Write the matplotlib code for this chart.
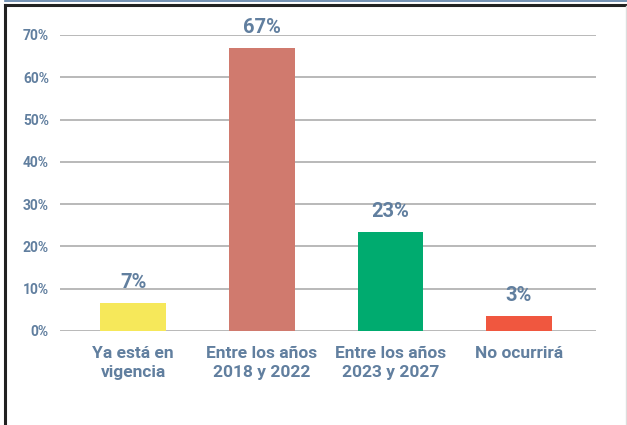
import matplotlib.pyplot as plt
from matplotlib.lines import Line2D

categories = ["Ya está en\nvigencia", "Entre los años\n2018 y 2022",
              "Entre los años\n2023 y 2027", "No ocurrirá"]
values = [6.6, 67.0, 23.4, 3.5]
value_labels = ["7%", "67%", "23%", "3%"]
bar_colors = ["#f6e85a", "#d07a6e", "#00ab6f", "#f0573f"]
y_ticks = [0, 10, 20, 30, 40, 50, 60, 70]

TEXT = "#617f9f"
W, H = 627, 425

plt.rcParams["font.family"] = ["Roboto", "DejaVu Sans"]

fig = plt.figure(figsize=(W / 100, H / 100), dpi=100)
ax = fig.add_axes([60 / W, (H - 331) / H, (596 - 60) / W, (331 - 35) / H])

x = range(len(categories))
ax.bar(x, values, width=0.51, color=bar_colors, zorder=3)

for xi, v, lab in zip(x, values, value_labels):
    ax.annotate(lab, (xi, v), xytext=(0, 11), textcoords="offset pixels",
                ha="center", va="bottom", fontsize=14.5, fontweight="bold",
                color=TEXT, clip_on=False, zorder=4)

ax.set_xlim(-0.57, 3.6)
ax.set_ylim(0, 70)
ax.set_yticks(y_ticks)
ax.set_yticklabels([f"{t}%" for t in y_ticks])
ax.set_xticks(list(x))
ax.set_xticklabels(categories, linespacing=1.35)

ax.tick_params(axis="y", length=0, pad=8, labelsize=10, labelcolor=TEXT)
ax.tick_params(axis="x", length=0, pad=11, labelsize=12.5, labelcolor=TEXT)
for lab in ax.get_xticklabels() + ax.get_yticklabels():
    lab.set_fontweight("bold")

ax.grid(True, axis="y", color="#b3b3b3", linewidth=1.3, zorder=0)
for s in ax.spines.values():
    s.set_visible(False)

# frame around the figure
fig.add_artist(Line2D([5 / W, 1], [1 - 0.8 / H] * 2, color="#5a7ea6", linewidth=1.2))
fig.add_artist(Line2D([4.5 / W, 1], [1 - 4.5 / H] * 2, color="#222222", linewidth=2.2))
fig.add_artist(Line2D([4.5 / W] * 2, [0, 1 - 4.5 / H], color="#222222", linewidth=2.2))
fig.add_artist(Line2D([625.5 / W] * 2, [0, 1 - 6 / H], color="#dddddd", linewidth=1))

fig.savefig("out.png", dpi=100)
